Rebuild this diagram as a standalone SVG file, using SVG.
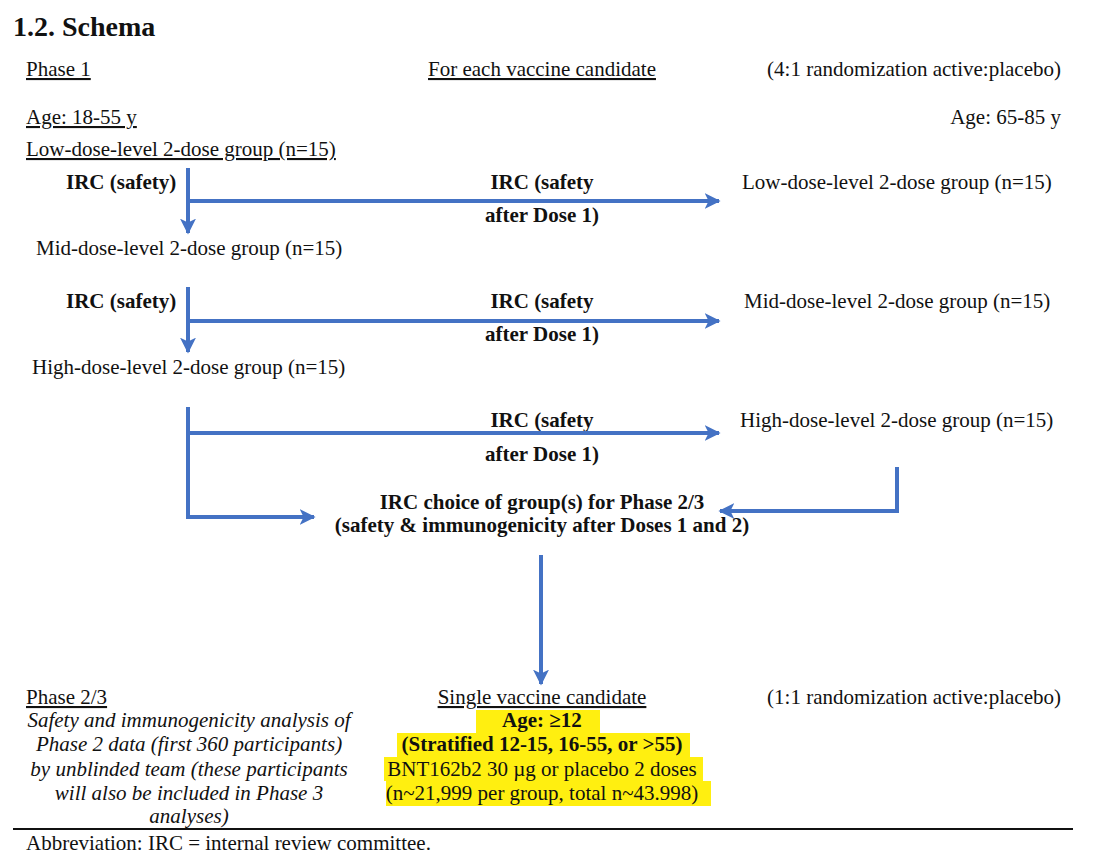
<svg xmlns="http://www.w3.org/2000/svg" width="1100" height="866" viewBox="0 0 1100 866">
<defs>
<marker id="ah" viewBox="0 0 10 10" refX="9" refY="5" markerWidth="4" markerHeight="4" orient="auto" markerUnits="strokeWidth">
<path d="M0,0 L10,5 L0,10 L2.5,5 Z" fill="#4472C4"/>
</marker>
<style>
text{font-family:"Liberation Serif","Times New Roman",serif;font-size:21px;fill:#111}
.b{font-weight:bold}
.u{text-decoration:underline}
.i{font-style:italic}
.m{text-anchor:middle}
.e{text-anchor:end}
.c{fill:none;stroke:#4472C4;stroke-width:4}
.h{fill:#FFEF10}
</style>
</defs>
<rect width="1100" height="866" fill="#fff"/>
<g id="header">
<text x="13" y="36" class="b" style="font-size:28px">1.2. Schema</text>
<text x="26" y="76" class="u">Phase 1</text>
<text x="542" y="76" class="u m">For each vaccine candidate</text>
<text x="1061" y="76" class="e">(4:1 randomization active:placebo)</text>
<text x="26" y="124" class="u">Age: 18-55 y</text>
<text x="1061" y="124" class="e">Age: 65-85 y</text>
</g>
<g id="low-young"><text x="26" y="156" class="u">Low-dose-level 2-dose group (n=15)</text></g>
<g id="irc1"><text x="66" y="189" class="b">IRC (safety)</text></g>
<g id="irc1b"><text x="542" y="189" class="b m">IRC (safety</text><text x="542" y="222" class="b m">after Dose 1)</text></g>
<g id="low-old"><text x="742" y="189">Low-dose-level 2-dose group (n=15)</text></g>
<g id="mid-young"><text x="36" y="255">Mid-dose-level 2-dose group (n=15)</text></g>
<g id="irc2"><text x="66" y="308" class="b">IRC (safety)</text></g>
<g id="irc2b"><text x="542" y="308" class="b m">IRC (safety</text><text x="542" y="341" class="b m">after Dose 1)</text></g>
<g id="mid-old"><text x="744" y="308">Mid-dose-level 2-dose group (n=15)</text></g>
<g id="high-young"><text x="32" y="374">High-dose-level 2-dose group (n=15)</text></g>
<g id="irc3b"><text x="542" y="427" class="b m">IRC (safety</text><text x="542" y="461" class="b m">after Dose 1)</text></g>
<g id="high-old"><text x="740" y="427">High-dose-level 2-dose group (n=15)</text></g>
<g id="irc-choice">
<text x="542" y="509" class="b m">IRC choice of group(s) for Phase 2/3</text>
<text x="542" y="532" class="b m">(safety &amp; immunogenicity after Doses 1 and 2)</text>
</g>
<g id="connectors">
<path class="c" d="M188,168 V233" marker-end="url(#ah)"/>
<path class="c" d="M188,201 H719" marker-end="url(#ah)"/>
<path class="c" d="M188,287 V352" marker-end="url(#ah)"/>
<path class="c" d="M188,321 H719" marker-end="url(#ah)"/>
<path class="c" d="M188,407 V517 H314" marker-end="url(#ah)"/>
<path class="c" d="M188,433 H719" marker-end="url(#ah)"/>
<path class="c" d="M897,467 V511 H720" marker-end="url(#ah)"/>
<path class="c" d="M541,555 V684" marker-end="url(#ah)"/>
</g>
<g id="phase23">
<text x="26" y="704" class="u">Phase 2/3</text>
<text x="1061" y="704" class="e">(1:1 randomization active:placebo)</text>
</g>
<g id="phase23-note">
<text x="189" y="727" class="i m">Safety and immunogenicity analysis of</text>
<text x="189" y="751" class="i m">Phase 2 data (first 360 participants)</text>
<text x="189" y="776" class="i m">by unblinded team (these participants</text>
<text x="189" y="800" class="i m">will also be included in Phase 3</text>
<text x="189" y="823" class="i m">analyses)</text>
</g>
<g id="single-candidate">
<path class="h" d="M476,710 H600 V733 H690 V757 H703 V781 H711 V806 H386 V781 H384 V757 H397 V733 H476 Z"/>
<text x="542" y="704" class="u m">Single vaccine candidate</text>
<text x="542" y="727" class="b m">Age: ≥12</text>
<text x="542" y="751" class="b m">(Stratified 12-15, 16-55, or &gt;55)</text>
<text x="542" y="776" class="m">BNT162b2 30 µg or placebo 2 doses</text>
<text x="542" y="800" class="m">(n~21,999 per group, total n~43.998)</text>
</g>
<g id="footer">
<line x1="13" y1="829" x2="1073" y2="829" stroke="#111" stroke-width="2"/>
<text x="26" y="850">Abbreviation: IRC = internal review committee.</text>
</g>
</svg>
